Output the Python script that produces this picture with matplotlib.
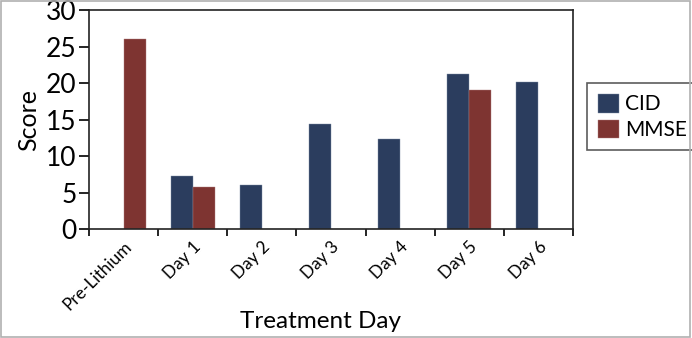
import numpy as np
import matplotlib
matplotlib.use("Agg")
from matplotlib import pyplot as plt
from matplotlib.patches import Rectangle

categories = ["Pre-Lithium", "Day 1", "Day 2", "Day 3", "Day 4", "Day 5", "Day 6"]
cid = [np.nan, 7.2, 6.0, 14.4, 12.4, 21.2, 20.2]
mmse = [26.1, 5.8, np.nan, np.nan, np.nan, 19.1, np.nan]
y_ticks = [0, 5, 10, 15, 20, 25, 30]

navy = "#2b3d5e"
red = "#7e3431"

plt.rcParams['font.family'] = ['Lato', 'DejaVu Sans']

fig = plt.figure(figsize=(6.92, 3.38), dpi=100)
ax = fig.add_axes([0.1286, 0.3225, 0.6994, 0.6475])

x = np.arange(len(categories))
w = 0.32
ax.bar(x - w / 2, cid, w, color=navy, label="CID", edgecolor="#8090a8", linewidth=0.3)
ax.bar(x + w / 2, mmse, w, color=red, label="MMSE", edgecolor="#b08080", linewidth=0.3)

ax.set_xlim(-0.5, len(categories) - 0.5)
ax.set_ylim(0, 30)
ax.set_yticks(y_ticks)
ax.tick_params(axis='y', labelsize=19, length=7, width=1.2, direction='out', pad=2)

# boundary ticks on major, labels on minor
ax.set_xticks(np.arange(len(categories) + 1) - 0.5)
ax.set_xticklabels([])
ax.tick_params(axis='x', which='major', length=5, width=1.2, direction='out')
ax.set_xticks(x, minor=True)
ax.set_xticklabels(categories, minor=True, rotation=45, ha='right', va='top',
                   rotation_mode='anchor', fontsize=12.5)
ax.tick_params(axis='x', which='minor', length=0, pad=7)

for s in ax.spines.values():
    s.set_linewidth(1.2)
    s.set_color("#222222")

ax.set_ylabel("Score", fontsize=18, labelpad=4)
fig.text(320 / 692, 1 - 321 / 338, "Treatment Day", fontsize=17.5,
         ha='center', va='center')

leg = ax.legend(loc='upper left', bbox_to_anchor=(1.03, 0.665), fontsize=15,
                frameon=True, fancybox=False, handlelength=1.0, handleheight=1.0,
                handletextpad=0.3, labelspacing=0.25, borderpad=0.5, borderaxespad=0)
leg.get_frame().set_edgecolor("#333333")
leg.get_frame().set_linewidth(1.2)

fig.patches.append(Rectangle((0.002, 0.004), 0.995, 0.993, transform=fig.transFigure,
                             fill=False, edgecolor="#b0b0b0", linewidth=1.2))

fig.savefig("out.png", dpi=100)
